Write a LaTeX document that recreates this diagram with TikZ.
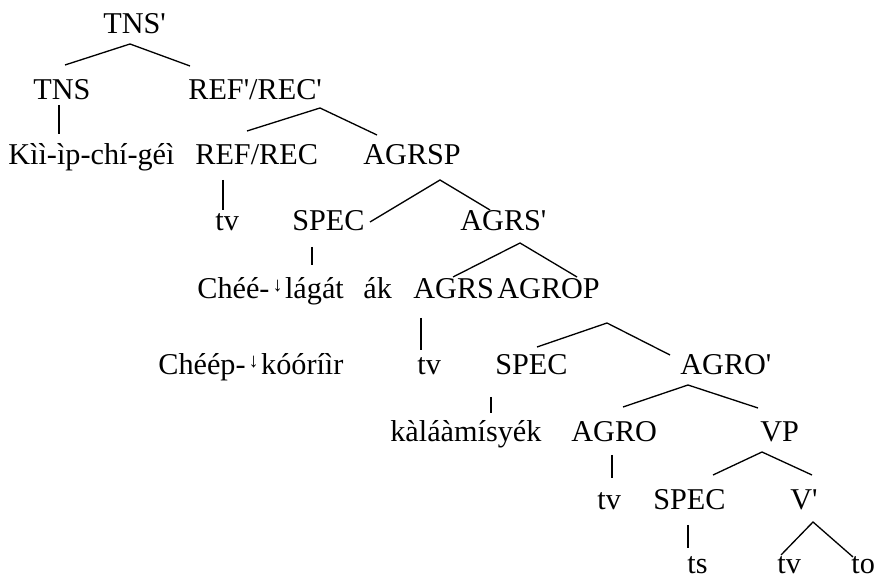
\documentclass[tikz,border=0pt]{standalone}
\usepackage{fontspec}
\setmainfont{Liberation Serif}
\newcommand{\prm}{\textquotesingle}
\newcommand{\dstep}{\hspace{0.1em}\raisebox{0.26em}{\fontsize{11.5}{11.5}\selectfont ↓}\hspace{0.08em}}

\begin{document}
\begin{tikzpicture}[every node/.style={anchor=base west, inner sep=0pt, font=\fontsize{17.2}{20}\selectfont},
  branch/.style={line width=0.75pt}]
\useasboundingbox (0,0) rectangle (17.56,11.58);
% labels, row by row
\node (tnsbar) at (2.06,10.90) {TNS\prm};
\node (tns) at (0.66,9.58) {TNS};
\node (refbar) at (3.76,9.58) {REF\prm/REC\prm};
\node (kiip) at (0.16,8.28) {Kìì-ìp-chí-géì};
\node (ref) at (3.90,8.28) {REF/REC};
\node (agrsp) at (7.26,8.28) {AGRSP};
\node (tva) at (4.30,6.96) {tv};
\node (speca) at (5.84,6.96) {SPEC};
\node (agrsbar) at (9.20,6.96) {AGRS\prm};
\node (chee) at (3.94,5.60) {Chéé-\dstep lágát\hspace{0.65em}ák};
\node (agrs) at (8.26,5.60) {AGRS};
\node (agrop) at (9.94,5.60) {AGROP};
\node (cheep) at (3.16,4.08) {Chéép-\dstep kóóríìr};
\node (tvb) at (8.34,4.08) {tv};
\node (specb) at (9.90,4.08) {SPEC};
\node (agrobar) at (13.60,4.08) {AGRO\prm};
\node (kala) at (7.80,2.74) {kàláàmísyék};
\node (agro) at (11.42,2.74) {AGRO};
\node (vp) at (15.20,2.74) {VP};
\node (tvc) at (11.94,1.38) {tv};
\node (specc) at (13.06,1.38) {SPEC};
\node (vbar) at (15.80,1.38) {V\prm};
\node (ts) at (13.74,0.11) {ts};
\node (tvd) at (15.54,0.11) {tv};
\node (to) at (17.02,0.11) {to};
% branch points
\coordinate (tnsbar-b) at (2.60,10.70);
\coordinate (tns-t) at (1.30,10.28);
\coordinate (refbar-t) at (3.80,10.26);
\coordinate (tns-b) at (1.18,9.48);
\coordinate (kiip-t) at (1.18,8.90);
\coordinate (refbar-b) at (6.40,9.42);
\coordinate (ref-t) at (4.94,8.96);
\coordinate (agrsp-t) at (7.54,8.88);
\coordinate (ref-b) at (4.46,7.98);
\coordinate (tva-t) at (4.46,7.38);
\coordinate (agrsp-b) at (8.80,7.98);
\coordinate (speca-t) at (7.40,7.14);
\coordinate (agrsbar-t) at (9.80,7.38);
\coordinate (speca-b) at (6.24,6.64);
\coordinate (chee-t) at (6.24,6.28);
\coordinate (agrsbar-b) at (10.40,6.72);
\coordinate (agrs-t) at (9.06,6.04);
\coordinate (agrop-t) at (11.54,6.04);
\coordinate (agrs-b) at (8.42,5.22);
\coordinate (tvb-t) at (8.42,4.58);
\coordinate (agrop-b) at (12.14,5.12);
\coordinate (specb-t) at (10.74,4.64);
\coordinate (agrobar-t) at (13.40,4.48);
\coordinate (specb-b) at (9.82,3.64);
\coordinate (kala-t) at (9.82,3.32);
\coordinate (agrobar-b) at (13.76,3.88);
\coordinate (agro-t) at (12.46,3.44);
\coordinate (vp-t) at (15.16,3.42);
\coordinate (agro-b) at (12.24,2.48);
\coordinate (tvc-t) at (12.24,2.02);
\coordinate (vp-b) at (15.24,2.54);
\coordinate (specc-t) at (14.26,2.08);
\coordinate (vbar-t) at (16.24,2.08);
\coordinate (specc-b) at (13.76,1.08);
\coordinate (ts-t) at (13.76,0.62);
\coordinate (vbar-b) at (16.26,1.14);
\coordinate (tvd-t) at (15.62,0.48);
\coordinate (to-t) at (17.06,0.44);
% branches
\draw [branch] (tns-t)--(tnsbar-b)--(refbar-t);
\draw [branch] (tns-b)--(kiip-t);
\draw [branch] (ref-t)--(refbar-b)--(agrsp-t);
\draw [branch] (ref-b)--(tva-t);
\draw [branch] (speca-t)--(agrsp-b)--(agrsbar-t);
\draw [branch] (speca-b)--(chee-t);
\draw [branch] (agrs-t)--(agrsbar-b)--(agrop-t);
\draw [branch] (agrs-b)--(tvb-t);
\draw [branch] (specb-t)--(agrop-b)--(agrobar-t);
\draw [branch] (specb-b)--(kala-t);
\draw [branch] (agro-t)--(agrobar-b)--(vp-t);
\draw [branch] (agro-b)--(tvc-t);
\draw [branch] (specc-t)--(vp-b)--(vbar-t);
\draw [branch] (specc-b)--(ts-t);
\draw [branch] (tvd-t)--(vbar-b)--(to-t);
\end{tikzpicture}
\end{document}
